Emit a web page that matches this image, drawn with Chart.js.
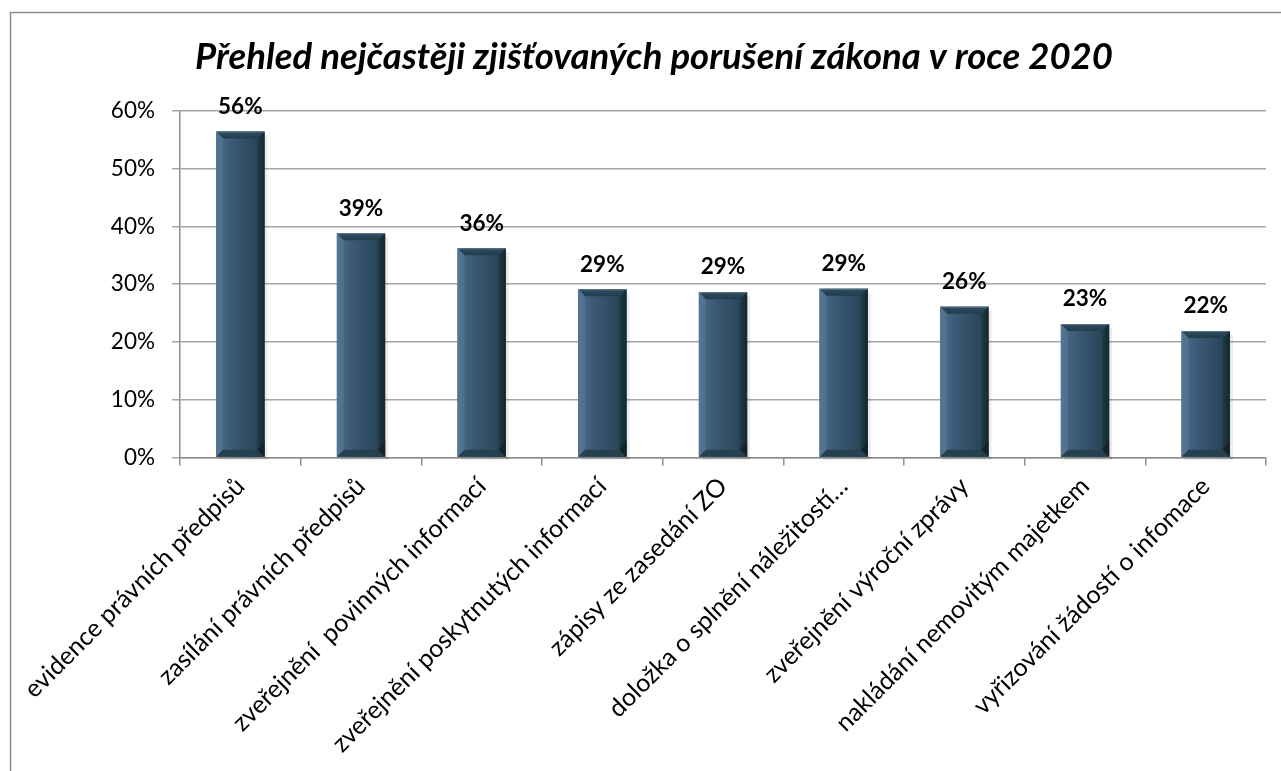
<!DOCTYPE html>
<html><head><meta charset="utf-8">
<script src="https://cdn.jsdelivr.net/npm/chart.js@4/dist/chart.umd.min.js"></script>
<style>html,body{margin:0;padding:0;background:#fff}#wrap{width:1281px;height:771px}</style>
</head><body><div id="wrap"><canvas id="c" width="1281" height="771"></canvas></div>
<script>
const categories = ["evidence právních předpisů","zasílání právních předpisů","zveřejnění  povinných informací","zveřejnění poskytnutých informací","zápisy ze zasedání ZO","doložka o splnění náležitostí…","zveřejnění výroční zprávy","nakládání nemovitým majetkem","vyřizování žádostí o infomace"];
const values = [56.4, 38.8, 36.2, 29.1, 28.6, 29.2, 26.1, 23.1, 21.9];
const yTicks = [0, 10, 20, 30, 40, 50, 60];
const titleText = "Přehled nejčastěji zjišťovaných porušení zákona v roce 2020";
const FONT = "Lato, 'Open Sans', sans-serif";

const frame = {id:'frame', beforeDraw(chart){const c=chart.ctx;c.save();c.fillStyle='#fff';c.fillRect(0,0,chart.width,chart.height);c.strokeStyle='#8c8c8c';c.lineWidth=1.5;c.strokeRect(10.5,12.5,1300,800);c.restore();}};

const bevel = {id:'bevel', afterDatasetsDraw(chart){
  const c=chart.ctx; const meta=chart.getDatasetMeta(0);
  meta.data.forEach((b,i)=>{
    const w=b.width, l=b.x-w/2, r=b.x+w/2, t=b.y, btm=b.base, h=btm-t;
    c.save();
    c.fillStyle='rgba(0,0,0,0.08)';c.fillRect(r,t+4,3,h-2);c.fillRect(l+3,btm,w,3);
    let g=c.createLinearGradient(l,0,r,0);
    g.addColorStop(0,'#4b6d8d');g.addColorStop(0.35,'#3a5874');g.addColorStop(0.8,'#2b475c');g.addColorStop(1,'#1e3540');
    c.fillStyle=g;c.fillRect(l,t,w,h);
    const bv=7;
    c.beginPath();c.moveTo(l,t);c.lineTo(r,t);c.lineTo(r-bv,t+bv);c.lineTo(l+bv,t+bv);c.closePath();
    let gt=c.createLinearGradient(0,t,0,t+bv);gt.addColorStop(0,'#2e4c60');gt.addColorStop(1,'#223c4c');c.fillStyle=gt;c.fill();
    c.beginPath();c.moveTo(l,t);c.lineTo(l+bv,t+bv);c.lineTo(l+bv,btm-bv);c.lineTo(l,btm);c.closePath();
    c.fillStyle='rgba(120,150,180,0.22)';c.fill();
    c.beginPath();c.moveTo(r,t);c.lineTo(r-bv,t+bv);c.lineTo(r-bv,btm-bv);c.lineTo(r,btm);c.closePath();
    let gr=c.createLinearGradient(r-bv,0,r,0);gr.addColorStop(0,'#1f3a45');gr.addColorStop(1,'#15282f');c.fillStyle=gr;c.fill();
    c.beginPath();c.moveTo(l,btm);c.lineTo(l+bv,btm-bv);c.lineTo(r-bv,btm-bv);c.lineTo(r,btm);c.closePath();
    c.fillStyle='#26404f';c.fill();
    c.beginPath();c.moveTo(r,btm);c.lineTo(r-bv,btm-bv);c.lineTo(r,btm-bv*2.2);c.closePath();c.fillStyle='#132329';c.fill();
    c.fillStyle='rgba(180,200,220,0.35)';c.fillRect(l,t,w,1);
    c.restore();
    c.save();c.font="bold 22.5px "+FONT;c.fillStyle='#000';c.textAlign='center';c.textBaseline='middle';
    c.fillText(Math.round(values[i])+'%', b.x, t-25);c.restore();
  });
}};

new Chart(document.getElementById('c'),{
  type:'bar',
  data:{labels:categories,datasets:[{data:values,backgroundColor:'#33506a',barPercentage:0.8,categoryPercentage:0.5}]},
  options:{
    responsive:false,animation:false,devicePixelRatio:1,
    layout:{padding:{left:42,right:15,top:0,bottom:0}},
    plugins:{legend:{display:false},tooltip:{enabled:false},
      title:{display:true,text:titleText,color:'#000',font:{family:FONT,size:36.5,weight:'bold',style:'italic'},padding:{top:35,bottom:32}}},
    scales:{
      x:{grid:{display:true,drawOnChartArea:false,drawTicks:true,tickLength:8,color:'#8c8c8c',lineWidth:1.5,offset:true},
         border:{color:'#8c8c8c',width:1.5},
         ticks:{color:'#000',font:{family:FONT,size:25},minRotation:45,maxRotation:45,autoSkip:false,padding:6},
         afterFit(s){s.height=771-457.5;}},
      y:{min:0,max:60,afterBuildTicks(s){s.ticks=yTicks.map(v=>({value:v}));},
         grid:{color:'#a6a6a6',lineWidth:1.5,tickLength:8},
         border:{color:'#8c8c8c',width:1.5},
         ticks:{color:'#000',font:{family:FONT,size:22.5},padding:17,callback:v=>v+'%'},
         afterFit(s){s.width=138;}}
    }
  },
  plugins:[frame,bevel]
});
</script></body></html>
